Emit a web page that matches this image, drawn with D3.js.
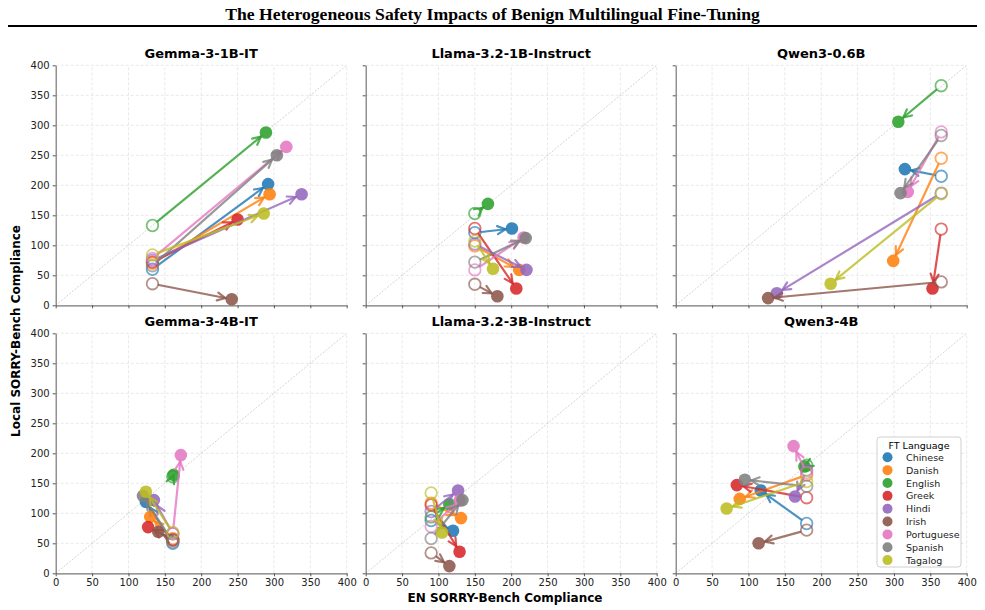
<!DOCTYPE html>
<html>
<head>
<meta charset="utf-8">
<script src="https://cdn.jsdelivr.net/npm/d3@7"></script>
<style>
  body { margin: 0; background: #fff; }
  svg { display: block; font-family: "DejaVu Sans", sans-serif; }
</style>
</head>
<body>
<svg id="chart"></svg>
<script>
(function () {
    'use strict';

    const width = 985;
    const height = 610;

    const languages = ['Chinese', 'Danish', 'English', 'Greek', 'Hindi', 'Irish', 'Portuguese', 'Spanish', 'Tagalog'];
    const models = ['Gemma-3-1B-IT', 'Llama-3.2-1B-Instruct', 'Qwen3-0.6B', 'Gemma-3-4B-IT', 'Llama-3.2-3B-Instruct', 'Qwen3-4B'];
    const ticks = [0, 50, 100, 150, 200, 250, 300, 350, 400];

    // base model EN compliance (x of every open circle), one per model
    const baseEN = [133, 150, 365, 161, 90, 180];

    // per model, in language order: base local, fine-tuned EN, fine-tuned local
    const gemma1bBase = [60, 70, 133, 72, 75, 36, 78, 66, 84];
    const gemma1bFtEN = [292, 294, 289, 250, 338, 242, 317, 304, 286];
    const gemma1bFtLocal = [202, 185, 288, 143, 185, 10, 264, 250, 153];

    const llama1bBase = [121, 99, 153, 128, 102, 35, 59, 72, 107];
    const llama1bFtEN = [201, 211, 168, 207, 221, 181, 217, 220, 175];
    const llama1bFtLocal = [128, 59, 169, 28, 59, 15, 113, 112, 61];

    const qwen06bBase = [215, 245, 366, 127, 187, 39, 289, 283, 186];
    const qwen06bFtEN = [315, 299, 306, 353, 139, 127, 319, 309, 213];
    const qwen06bFtLocal = [227, 74, 306, 28, 20, 12, 189, 187, 36];

    const gemma4bBase = [50, 58, 161, 56, 66, 55, 66, 52, 68];
    const gemma4bFtEN = [124, 130, 162, 127, 135, 141, 172, 120, 124];
    const gemma4bFtLocal = [119, 94, 164, 77, 122, 69, 197, 129, 136];

    const llama3bBase = [88, 117, 94, 114, 103, 34, 78, 58, 134];
    const llama3bFtEN = [120, 131, 115, 129, 127, 115, 129, 133, 105];
    const llama3bFtLocal = [71, 92, 115, 36, 138, 12, 121, 122, 68];

    const qwen4bBase = [83, 164, 180, 126, 172, 72, 168, 145, 153];
    const qwen4bFtEN = [117, 88, 177, 84, 164, 114, 162, 95, 70];
    const qwen4bFtLocal = [138, 124, 178, 147, 128, 50, 212, 156, 108];

    const panelBase = [gemma1bBase, llama1bBase, qwen06bBase, gemma4bBase, llama3bBase, qwen4bBase];
    const panelFtEN = [gemma1bFtEN, llama1bFtEN, qwen06bFtEN, gemma4bFtEN, llama3bFtEN, qwen4bFtEN];
    const panelFtLocal = [gemma1bFtLocal, llama1bFtLocal, qwen06bFtLocal, gemma4bFtLocal, llama3bFtLocal, qwen4bFtLocal];

    const color = d3.scaleOrdinal().domain(languages).range(d3.schemeCategory10);

    const colX = [55.7, 365.7, 675.7];
    const rowY = [65.3, 333.3];
    const pw = 291;
    const ph = 240;

    const svg = d3.select('#chart')
        .attr('width', width)
        .attr('height', height)
        .attr('viewBox', [0, 0, width, height]);

    // suptitle + rule
    const title = svg.append('text')
        .attr('x', width / 2)
        .attr('y', 20)
        .attr('text-anchor', 'middle')
        .style('font-family', '"Liberation Serif", "DejaVu Serif", serif')
        .style('font-weight', 'bold')
        .style('font-size', '19px')
        .text('The Heterogeneous Safety Impacts of Benign Multilingual Fine-Tuning');
    const tl = title.node().getComputedTextLength();
    if (tl > 0) title.style('font-size', (19 * 535 / tl).toFixed(2) + 'px');

    svg.append('line')
        .attr('x1', 8).attr('x2', 977)
        .attr('y1', 26).attr('y2', 26)
        .attr('stroke', '#000')
        .attr('stroke-width', 2);

    models.forEach((name, i) => {
        const col = i % 3;
        const row = Math.floor(i / 3);
        const x = d3.scaleLinear().domain([0, 400]).range([colX[col], colX[col] + pw]);
        const y = d3.scaleLinear().domain([0, 400]).range([rowY[row] + ph, rowY[row]]);

        const g = svg.append('g');

        // grid
        g.append('g').selectAll('line.v')
            .data(ticks.slice(1))
            .join('line')
            .attr('x1', d => x(d)).attr('x2', d => x(d))
            .attr('y1', y(0)).attr('y2', y(400))
            .attr('stroke', '#e3e3e3')
            .attr('stroke-width', 0.8)
            .attr('stroke-dasharray', '3,2');
        g.append('g').selectAll('line.h')
            .data(ticks.slice(1))
            .join('line')
            .attr('x1', x(0)).attr('x2', x(400))
            .attr('y1', d => y(d)).attr('y2', d => y(d))
            .attr('stroke', '#e3e3e3')
            .attr('stroke-width', 0.8)
            .attr('stroke-dasharray', '3,2');

        // y = x reference
        g.append('line')
            .attr('x1', x(0)).attr('y1', y(0))
            .attr('x2', x(400)).attr('y2', y(400))
            .attr('stroke', '#c8c8c8')
            .attr('stroke-width', 0.8)
            .attr('stroke-dasharray', '2,1.5');

        // axes
        const yAxis = d3.axisLeft(y).tickValues(ticks).tickSize(3).tickSizeOuter(0)
            .tickFormat(col === 0 ? d3.format('d') : () => '');
        const xAxis = d3.axisBottom(x).tickValues(ticks).tickSize(3).tickSizeOuter(0)
            .tickFormat(row === 1 ? d3.format('d') : () => '');

        g.append('g')
            .attr('transform', `translate(${x(0)},0)`)
            .call(yAxis)
            .call(a => a.select('.domain').attr('stroke', '#777').attr('stroke-width', 1.2))
            .call(a => a.selectAll('.tick line').attr('stroke', '#555'))
            .call(a => a.selectAll('.tick text').attr('fill', '#222').style('font-size', '10px')
                .style('font-family', '"DejaVu Sans", sans-serif'));
        g.append('g')
            .attr('transform', `translate(0,${y(0)})`)
            .call(xAxis)
            .call(a => a.select('.domain').attr('stroke', '#777').attr('stroke-width', 1.2))
            .call(a => a.selectAll('.tick line').attr('stroke', '#555'))
            .call(a => a.selectAll('.tick text').attr('fill', '#222').style('font-size', '10px')
                .style('font-family', '"DejaVu Sans", sans-serif'));

        // panel title
        g.append('text')
            .attr('x', (x(0) + x(400)) / 2)
            .attr('y', rowY[row] - 7)
            .attr('text-anchor', 'middle')
            .style('font-weight', 'bold')
            .style('font-size', '13px')
            .text(name);

        // arrows and points, one language at a time
        const base = panelBase[i];
        const ftEN = panelFtEN[i];
        const ftLocal = panelFtLocal[i];

        languages.forEach((lang, j) => {
            const c = color(lang);
            const x0 = x(baseEN[i]), y0 = y(base[j]);
            const x1 = x(ftEN[j]), y1 = y(ftLocal[j]);
            const dx = x1 - x0, dy = y1 - y0;
            const len = Math.hypot(dx, dy) || 1;
            const ux = dx / len, uy = dy / len;
            const shrink = 6.5;
            const ax = len > 2 * shrink ? x0 + ux * shrink : x1 - ux * 1;
            const ay = len > 2 * shrink ? y0 + uy * shrink : y1 - uy * 1;
            const bx = len > 2 * shrink ? x1 - ux * shrink : x1 - ux * 0.5;
            const by = len > 2 * shrink ? y1 - uy * shrink : y1 - uy * 0.5;

            const arrow = g.append('g')
                .attr('stroke', c)
                .attr('stroke-width', 2.2)
                .attr('stroke-opacity', 0.8)
                .attr('fill', 'none')
                .attr('stroke-linecap', 'round');
            arrow.append('line')
                .attr('x1', ax).attr('y1', ay)
                .attr('x2', bx).attr('y2', by);
            const hl = 8, hw = 4;
            const nx = -uy, ny = ux;
            arrow.append('path')
                .attr('d', d3.line()([
                    [bx - ux * hl + nx * hw, by - uy * hl + ny * hw],
                    [bx, by],
                    [bx - ux * hl - nx * hw, by - uy * hl - ny * hw]
                ]));

            g.append('circle')
                .attr('cx', x0).attr('cy', y0).attr('r', 5.8)
                .attr('fill', 'none')
                .attr('stroke', c)
                .attr('stroke-width', 1.8)
                .attr('stroke-opacity', 0.65);

            g.append('circle')
                .attr('cx', x1).attr('cy', y1).attr('r', 6.3)
                .attr('fill', c)
                .attr('fill-opacity', 0.88);
        });
    });

    // shared axis labels
    svg.append('text')
        .attr('transform', 'translate(20,331) rotate(-90)')
        .attr('text-anchor', 'middle')
        .style('font-weight', 'bold')
        .style('font-size', '12px')
        .text('Local SORRY-Bench Compliance');

    svg.append('text')
        .attr('x', 505)
        .attr('y', 602)
        .attr('text-anchor', 'middle')
        .style('font-weight', 'bold')
        .style('font-size', '12px')
        .text('EN SORRY-Bench Compliance');

    // legend
    const legend = svg.append('g');
    legend.append('rect')
        .attr('x', 877).attr('y', 437)
        .attr('width', 84).attr('height', 130)
        .attr('rx', 3)
        .attr('fill', '#fff')
        .attr('fill-opacity', 0.85)
        .attr('stroke', '#d0d0d0');
    legend.append('text')
        .attr('x', 919).attr('y', 448.5)
        .attr('text-anchor', 'middle')
        .style('font-size', '9.5px')
        .text('FT Language');
    const items = legend.selectAll('g.item')
        .data(languages)
        .join('g')
        .attr('transform', (d, k) => `translate(887.5,${457.3 + k * 12.85})`);
    items.append('circle')
        .attr('r', 5)
        .attr('fill', d => color(d))
        .attr('fill-opacity', 0.9);
    items.append('text')
        .attr('x', 18.5)
        .attr('y', 3.5)
        .style('font-size', '9.5px')
        .attr('fill', '#222')
        .text(d => d);
})();
</script>
</body>
</html>
